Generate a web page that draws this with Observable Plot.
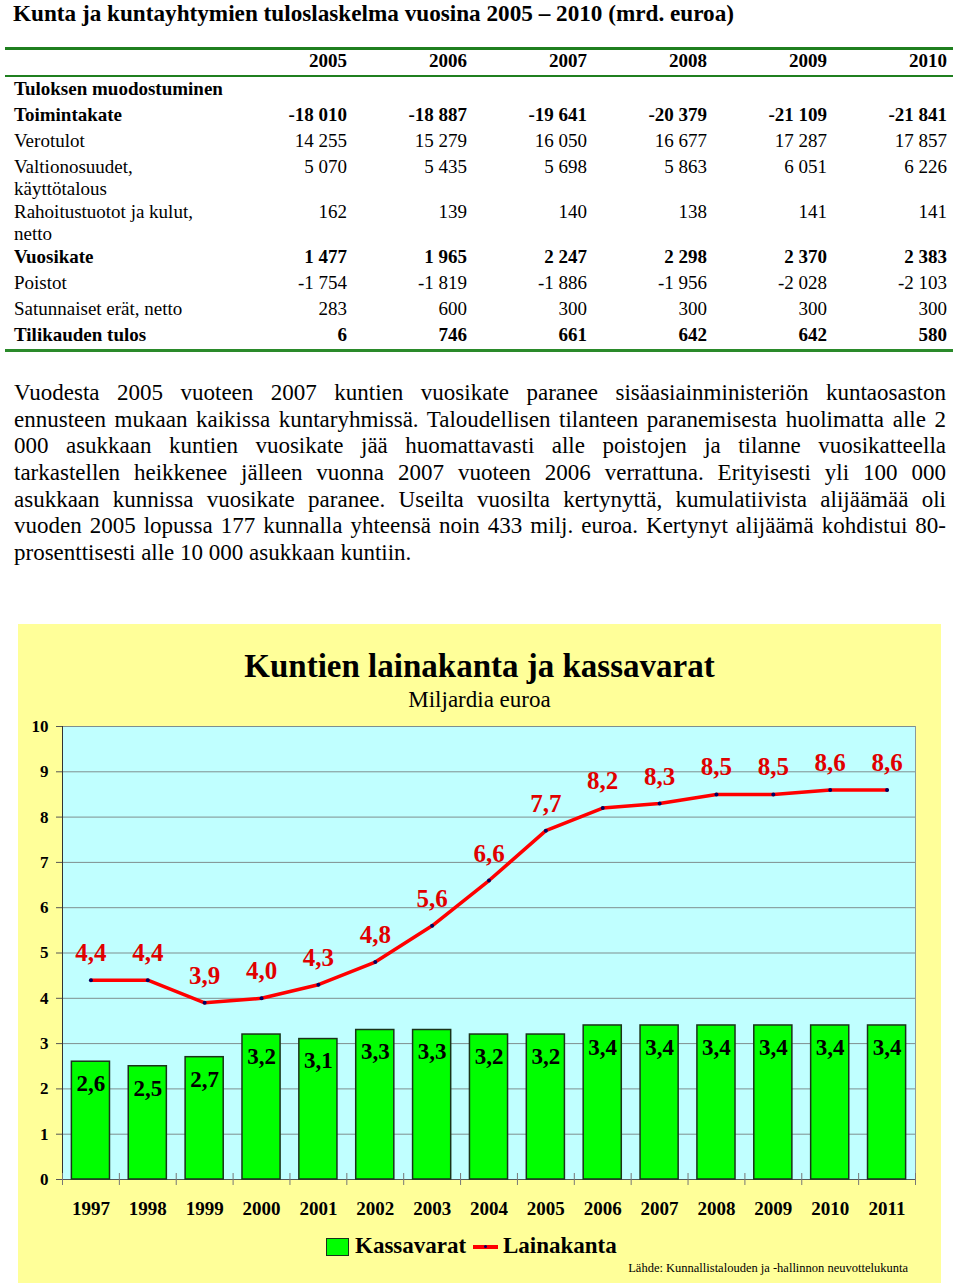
<!DOCTYPE html>
<html><head><meta charset="utf-8">
<script src="https://cdn.jsdelivr.net/npm/d3@7"></script>
<script src="https://cdn.jsdelivr.net/npm/@observablehq/plot@0.6"></script>
<style>
body{margin:0;background:#fff;font-family:"Liberation Serif","Times New Roman",serif;color:#000;}
#page{position:relative;width:960px;height:1287px;overflow:hidden;}
.abs{position:absolute;white-space:nowrap;}
.rule{position:absolute;left:5px;width:948px;background:#1f7f1f;}
.cell{position:absolute;font-size:19px;line-height:22px;white-space:nowrap;}
.num{text-align:right;width:120px;}
.b{font-weight:bold;}
.pline{position:absolute;left:14px;font-size:23px;line-height:26px;white-space:nowrap;}
#panel{position:absolute;left:18px;top:624px;width:923px;height:659px;background:#ffff99;}
#chart svg g[aria-label$="tick label"] text{font-weight:bold;}
</style></head><body><div id="page"></div>
<script>
// ---------- Table data ----------
const tableTitle = "Kunta ja kuntayhtymien tuloslaskelma vuosina 2005 – 2010 (mrd. euroa)";
const tableYears = [2005, 2006, 2007, 2008, 2009, 2010];
const sectionLabel = "Tuloksen muodostuminen";
const rowLabels = ["Toimintakate", "Verotulot", "Valtionosuudet,|käyttötalous", "Rahoitustuotot ja kulut,|netto", "Vuosikate", "Poistot", "Satunnaiset erät, netto", "Tilikauden tulos"];
const rowBold = [true, false, false, false, true, false, false, true];
const toimintakate = [-18010, -18887, -19641, -20379, -21109, -21841];
const verotulot = [14255, 15279, 16050, 16677, 17287, 17857];
const valtionosuudet = [5070, 5435, 5698, 5863, 6051, 6226];
const rahoitus = [162, 139, 140, 138, 141, 141];
const vuosikate = [1477, 1965, 2247, 2298, 2370, 2383];
const poistot = [-1754, -1819, -1886, -1956, -2028, -2103];
const satunnaiset = [283, 600, 300, 300, 300, 300];
const tilikauden = [6, 746, 661, 642, 642, 580];

// ---------- Paragraph ----------
const paragraphLines = [
  "Vuodesta 2005 vuoteen 2007 kuntien vuosikate paranee sisäasiainministeriön kuntaosaston",
  "ennusteen mukaan kaikissa kuntaryhmissä. Taloudellisen tilanteen paranemisesta huolimatta alle 2",
  "000 asukkaan kuntien vuosikate jää huomattavasti alle poistojen ja tilanne vuosikatteella",
  "tarkastellen heikkenee jälleen vuonna 2007 vuoteen 2006 verrattuna. Erityisesti yli 100 000",
  "asukkaan kunnissa vuosikate paranee. Useilta vuosilta kertynyttä, kumulatiivista alijäämää oli",
  "vuoden 2005 lopussa 177 kunnalla yhteensä noin 433 milj. euroa. Kertynyt alijäämä kohdistui 80-",
  "prosenttisesti alle 10 000 asukkaan kuntiin."
];

// ---------- Chart data ----------
const chartTitle = "Kuntien lainakanta ja kassavarat";
const chartSubtitle = "Miljardia euroa";
const chartYears = ["1997","1998","1999","2000","2001","2002","2003","2004","2005","2006","2007","2008","2009","2010","2011"];
const kassavarat = [2.6, 2.5, 2.7, 3.2, 3.1, 3.3, 3.3, 3.2, 3.2, 3.4, 3.4, 3.4, 3.4, 3.4, 3.4];
const lainakanta = [4.4, 4.4, 3.9, 4.0, 4.3, 4.8, 5.6, 6.6, 7.7, 8.2, 8.3, 8.5, 8.5, 8.6, 8.6];
const legendLabels = ["Kassavarat", "Lainakanta"];
const sourceText = "Lähde: Kunnallistalouden ja -hallinnon neuvottelukunta";

// ---------- Build page ----------
const page = document.getElementById("page");
function el(tag, cls, style, text, parent) {
  const e = document.createElement(tag);
  if (cls) e.className = cls;
  if (style) e.setAttribute("style", style);
  if (text != null) e.textContent = text;
  (parent || page).appendChild(e);
  return e;
}
const fmtInt = n => (n < 0 ? "-" : "") + String(Math.abs(n)).replace(/\B(?=(\d{3})+(?!\d))/g, " ");

el("div", "abs b", "left:13px;top:0px;font-size:23.2px;line-height:26px;", tableTitle);
el("div", "rule", "top:47px;height:3px;");
el("div", "rule", "top:75px;height:2px;");
el("div", "rule", "top:349px;height:3px;background:#2a8a2a;");

const colRight = tableYears.map((_, i) => 347 + 120 * i);
tableYears.forEach((y, i) => el("div", "cell num b", `left:${colRight[i] - 120}px;top:${61 - 11}px;`, String(y)));
el("div", "cell b", `left:14px;top:${89 - 11}px;`, sectionLabel);

const rowValues = [toimintakate, verotulot, valtionosuudet, rahoitus, vuosikate, poistot, satunnaiset, tilikauden];
const rowY = [115, 141, 167, 212, 257, 283, 309, 335];
rowLabels.forEach((lab, r) => {
  const parts = lab.split("|");
  const bc = rowBold[r] ? " b" : "";
  parts.forEach((p, k) => el("div", "cell" + bc, `left:14px;top:${rowY[r] - 11 + k * 22}px;`, p));
  rowValues[r].forEach((v, i) => el("div", "cell num" + bc, `left:${colRight[i] - 120}px;top:${rowY[r] - 11}px;`, fmtInt(v)));
});

paragraphLines.forEach((line, i) => {
  const d = el("div", "pline", `top:${393 - 13 + i * 26.67}px;`, line);
  if (i < paragraphLines.length - 1) {
    const w = d.getBoundingClientRect().width;
    const spaces = (line.match(/ /g) || []).length;
    d.style.wordSpacing = ((932 - w) / spaces) + "px";
  }
});

// ---------- Chart panel ----------
const panel = el("div", null, null, null);
panel.id = "panel";
el("div", "abs b", "left:0;width:923px;text-align:center;top:23px;font-size:33px;line-height:38px;", chartTitle, panel);
el("div", "abs", "left:0;width:923px;text-align:center;top:63px;font-size:23px;line-height:26px;", chartSubtitle, panel);

const chartData = chartYears.map((year, i) => ({year, kassa: kassavarat[i], laina: lainakanta[i]}));
const fmt = v => v.toFixed(1).replace(".", ",");
const plotW = 923, mL = 44, mR = 26, mT = 20, mB = 46, innerH = 453;
const step = (plotW - mL - mR) / chartYears.length;

const chart = Plot.plot({
  width: plotW, height: mT + innerH + mB,
  marginLeft: mL, marginRight: mR, marginTop: mT, marginBottom: mB,
  style: {background: "transparent", fontFamily: "'Liberation Serif', 'Times New Roman', serif", color: "#000", overflow: "visible"},
  x: {domain: chartYears, paddingInner: 0.33, paddingOuter: 0.165, round: false},
  y: {domain: [0, 10]},
  marks: [
    Plot.frame({fill: "#c0ffff", stroke: "#8a9a9a"}),
    Plot.gridY({ticks: 10, stroke: "#7f8f8f", strokeOpacity: 1}),
    Plot.gridX([chartYears[0]], {dx: -step / 2, stroke: "#333", strokeOpacity: 1}),
    Plot.ruleY([0], {stroke: "#555"}),
    Plot.axisX({tickSize: 12, dy: -6, dx: -step / 2, tickFormat: () => "", stroke: "#777", label: null}),
    Plot.axisX([chartYears[chartYears.length - 1]], {tickSize: 12, dy: -6, dx: step / 2, tickFormat: () => "", stroke: "#777", label: null}),
    Plot.barY(chartData, {x: "year", y: "kassa", fill: "#00ff00", stroke: "#1a331a", strokeWidth: 1.5}),
    Plot.text(chartData, {x: "year", y: "kassa", text: d => fmt(d.kassa), dy: 22, fontSize: 23, fontWeight: "bold", fill: "#000"}),
    Plot.line(chartData, {x: "year", y: "laina", stroke: "#ff0000", strokeWidth: 3.5}),
    Plot.dot(chartData, {x: "year", y: "laina", r: 2, fill: "#000060", stroke: null}),
    Plot.text(chartData, {x: "year", y: "laina", text: d => fmt(d.laina), dy: -27, fontSize: 25, fontWeight: "bold", fill: "#e00000"}),
    Plot.axisX({tickSize: 0, tickPadding: 22, fontSize: 19, fontWeight: "bold", label: null}),
    Plot.axisY({ticks: 10, tickSize: 6, tickPadding: 8, fontSize: 17, fontWeight: "bold", label: null, stroke: "#555"})
  ]
});
const holder = el("div", null, "position:absolute;left:0;top:82px;", null, panel);
holder.id = "chart";
holder.appendChild(chart);

// Legend
el("div", null, "position:absolute;left:308px;top:614px;width:21px;height:16px;background:#00ff00;border:1.5px solid #1a331a;", null, panel);
el("div", "abs b", "left:337px;top:609px;font-size:23px;line-height:26px;", legendLabels[0], panel);
el("div", null, "position:absolute;left:455px;top:621px;width:25px;height:3.5px;background:#ff0000;", null, panel);
el("div", null, "position:absolute;left:466px;top:621px;width:3px;height:3px;border-radius:50%;background:#000060;", null, panel);
el("div", "abs b", "left:485px;top:609px;font-size:23px;line-height:26px;", legendLabels[1], panel);
el("div", "abs", "right:33px;top:636px;font-size:12.5px;line-height:16px;", sourceText, panel);
</script></body></html>
